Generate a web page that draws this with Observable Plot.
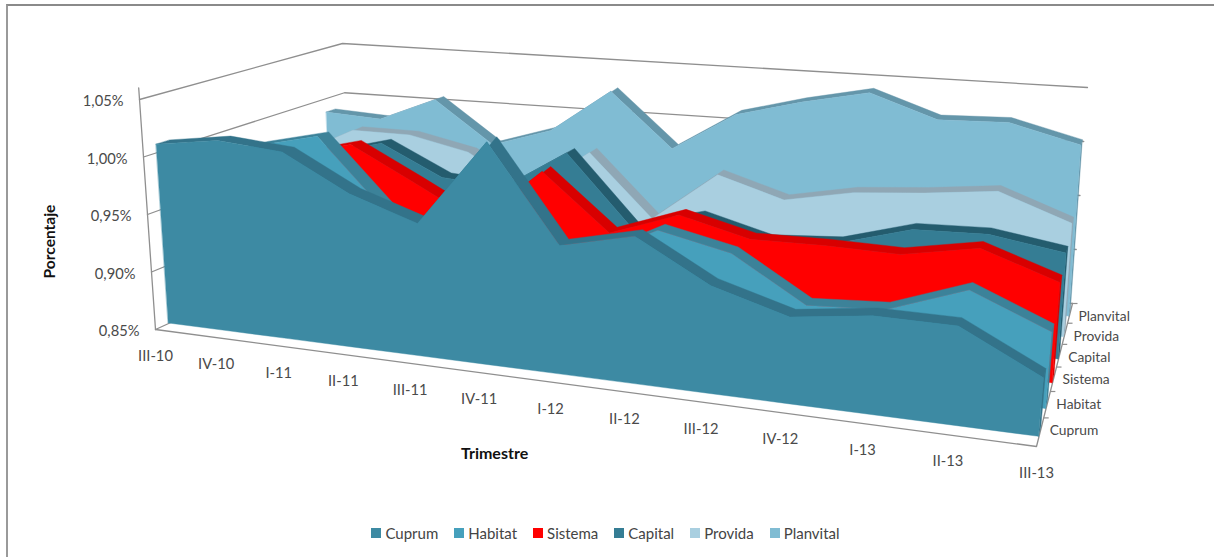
<!DOCTYPE html>
<html><head><meta charset="utf-8">
<script src="https://cdn.jsdelivr.net/npm/d3@7"></script>
<script src="https://cdn.jsdelivr.net/npm/@observablehq/plot@0.6"></script>
<style>
html,body{margin:0;padding:0;background:#fff;overflow:hidden}
body{position:relative;width:1214px;height:557px;font-family:Lato,sans-serif}
#frame{position:absolute;left:6px;top:4px;right:0;bottom:0;border-top:2px solid #8a8a8a;border-left:2px solid #9a9a9a;pointer-events:none}
#legend{display:flex;justify-content:center;align-items:center;gap:16px;height:36px;font-size:15px;color:#444;padding-right:3px}
#legend span{display:inline-flex;align-items:center;gap:4px}
#legend i{display:inline-block;width:10px;height:10px}
svg{display:block}
</style></head><body>
<div id="chart"></div><div id="legend"></div><div id="frame"></div>
<script>
const quarters = ["III-10","IV-10","I-11","II-11","III-11","IV-11","I-12","II-12","III-12","IV-12","I-13","II-13","III-13"];
const seriesNames = ["Cuprum","Habitat","Sistema","Capital","Provida","Planvital"];
const cuprum    = [1.007,1.016,1.012,0.982,0.963,1.039,0.958,0.973,0.939,0.921,0.930,0.930,0.897];
const habitat   = [0.980,1.000,1.014,0.955,0.936,0.940,0.930,0.962,0.949,0.912,0.916,0.940,0.913];
const sistema   = [0.960,0.980,0.995,0.966,0.936,0.987,0.938,0.960,0.945,0.946,0.945,0.957,0.935];
const capital   = [0.971,0.970,0.985,0.958,0.954,0.991,0.928,0.944,0.928,0.932,0.950,0.952,0.942];
const provida   = [0.955,0.982,0.982,0.970,0.937,0.979,0.922,0.968,0.950,0.962,0.967,0.974,0.951];
const planvital = [0.986,0.983,1.006,0.966,0.984,1.026,0.975,1.012,1.028,1.041,1.020,1.022,1.006];
const valueTicks = [0.85,0.90,0.95,1.00,1.05];
const faceColors   = ["#3d8aa3","#46a0bc","#ff0000","#357d94","#a9cfe0","#80bcd3"];
const ribbonColors = ["#33738a","#3c8299","#d80000","#245c6e","#8fa7b5","#6496aa"];
const seriesValues = [cuprum,habitat,sistema,capital,provida,planvital];

// box corners of the 3-D plot: [front/back][left/right][bottom/top]
const box = {FLB:[155,329],FLT:[139,99],BLB:[350,240],BLT:[342,43],FRB:[1036,446],FRT:[1058,194],BRB:[1072,303],BRT:[1087,87]};
const W = 1214, H = 515, nq = quarters.length-1, nd = seriesNames.length, vMin = .85, vMax = 1.05;
const mix = (a,b,t)=>a+(b-a)*t;
function project(q,d,v){
  const w0 = d/nd, w = w0*1.25/(1+.25*w0);
  const t0 = q/nq, k = .23-.01*d, t = t0/(1+k*(1-t0));
  const z = (v-vMin)/(vMax-vMin);
  return [0,1].map(i=>{
    const fl = mix(box.FLB[i],box.FLT[i],z), fr = mix(box.FRB[i],box.FRT[i],z);
    const bl = mix(box.BLB[i],box.BLT[i],z), br = mix(box.BRB[i],box.BRT[i],z);
    return mix(mix(fl,fr,t),mix(bl,br,t),w);
  });
}
const band0 = .33, band1 = .67;
const marks = [];
const grey = "#8f8f8f";
const line = (pts,opt={})=>Plot.line(pts,{x:"0",y:"1",stroke:grey,strokeWidth:1.3,...opt});

// walls
for (const v of valueTicks){
  marks.push(line([project(0,0,v),project(0,nd,v),project(nq,nd,v)]));
}
marks.push(line([project(0,0,vMin),project(0,0,1.06)]));
marks.push(line([project(0,0,vMin),project(nq,0,vMin),project(nq,nd,vMin)]));
marks.push(Plot.link(d3.range(1,nd+1).map(d=>project(nq,d,vMin)),{x1:"0",y1:"1",x2:p=>p[0]+5,y2:p=>p[1],stroke:grey,strokeWidth:1.2}));

// series, back to front
for (let s=nd-1;s>=0;s--){
  const vals = seriesValues[s];
  const front = vals.map((v,q)=>({b:project(q,s+band0,vMin),t:project(q,s+band0,v),k:project(q,s+band1,v)}));
  const e = nq, v = vals[e];
  const wall = [{a:project(e,s+band0,vMin),c:project(e,s+band0,v)},{a:project(e,s+band1,vMin),c:project(e,s+band1,v)}];
  marks.push(Plot.area(wall,{x1:r=>r.a[0],y1:r=>r.a[1],x2:r=>r.c[0],y2:r=>r.c[1],fill:ribbonColors[s],stroke:ribbonColors[s],strokeWidth:.4}));
  marks.push(Plot.area(front,{x1:r=>r.t[0],y1:r=>r.t[1],x2:r=>r.k[0],y2:r=>r.k[1],fill:ribbonColors[s],stroke:ribbonColors[s],strokeWidth:.4}));
  marks.push(Plot.area(front,{x1:r=>r.b[0],y1:r=>r.b[1],x2:r=>r.t[0],y2:r=>r.t[1],fill:faceColors[s],stroke:faceColors[s],strokeWidth:.4}));
}

// labels
const font = {fontFamily:"Lato, sans-serif",fontSize:14.7,fill:"#4a4a4a"};
marks.push(Plot.text(quarters.map((l,q)=>({l,p:project(q,0,vMin)})),{x:r=>r.p[0],y:r=>r.p[1],text:"l",dy:27,...font}));
marks.push(Plot.text(valueTicks.map(v=>({l:v.toFixed(2).replace(".",",")+"%",p:project(0,0,v)})),{x:r=>r.p[0],y:r=>r.p[1],text:"l",textAnchor:"end",dx:-16,dy:2,...font}));
marks.push(Plot.text(seriesNames.map((l,s)=>({l,p:project(nq,s+1,vMin)})),{x:r=>r.p[0],y:r=>r.p[1],text:"l",textAnchor:"start",dx:6,dy:13,...font,fontSize:13.8}));
marks.push(Plot.text([{p:project(0,0,.95)}],{x:r=>r.p[0],y:r=>r.p[1],text:()=>"Porcentaje",rotate:-90,dx:-97,dy:27,fontFamily:"Lato, sans-serif",fontSize:15.5,fontWeight:"bold",fill:"#111"}));
marks.push(Plot.text([{p:project(6,0,vMin)}],{x:r=>r.p[0],y:r=>r.p[1],text:()=>"Trimestre",dx:-56,dy:72,fontFamily:"Lato, sans-serif",fontSize:16,fontWeight:"bold",fill:"#111"}));

const chart = Plot.plot({width:W,height:H,margin:0,
  x:{domain:[0,W],range:[0,W],axis:null},
  y:{domain:[0,H],range:[0,H],axis:null},
  marks});
document.getElementById("chart").append(chart);
const lg = document.getElementById("legend");
seriesNames.forEach((n,i)=>{
  const s=document.createElement("span");
  const sw=document.createElement("i"); sw.style.background=faceColors[i];
  s.append(sw,document.createTextNode(n)); lg.append(s);
});
</script></body></html>
